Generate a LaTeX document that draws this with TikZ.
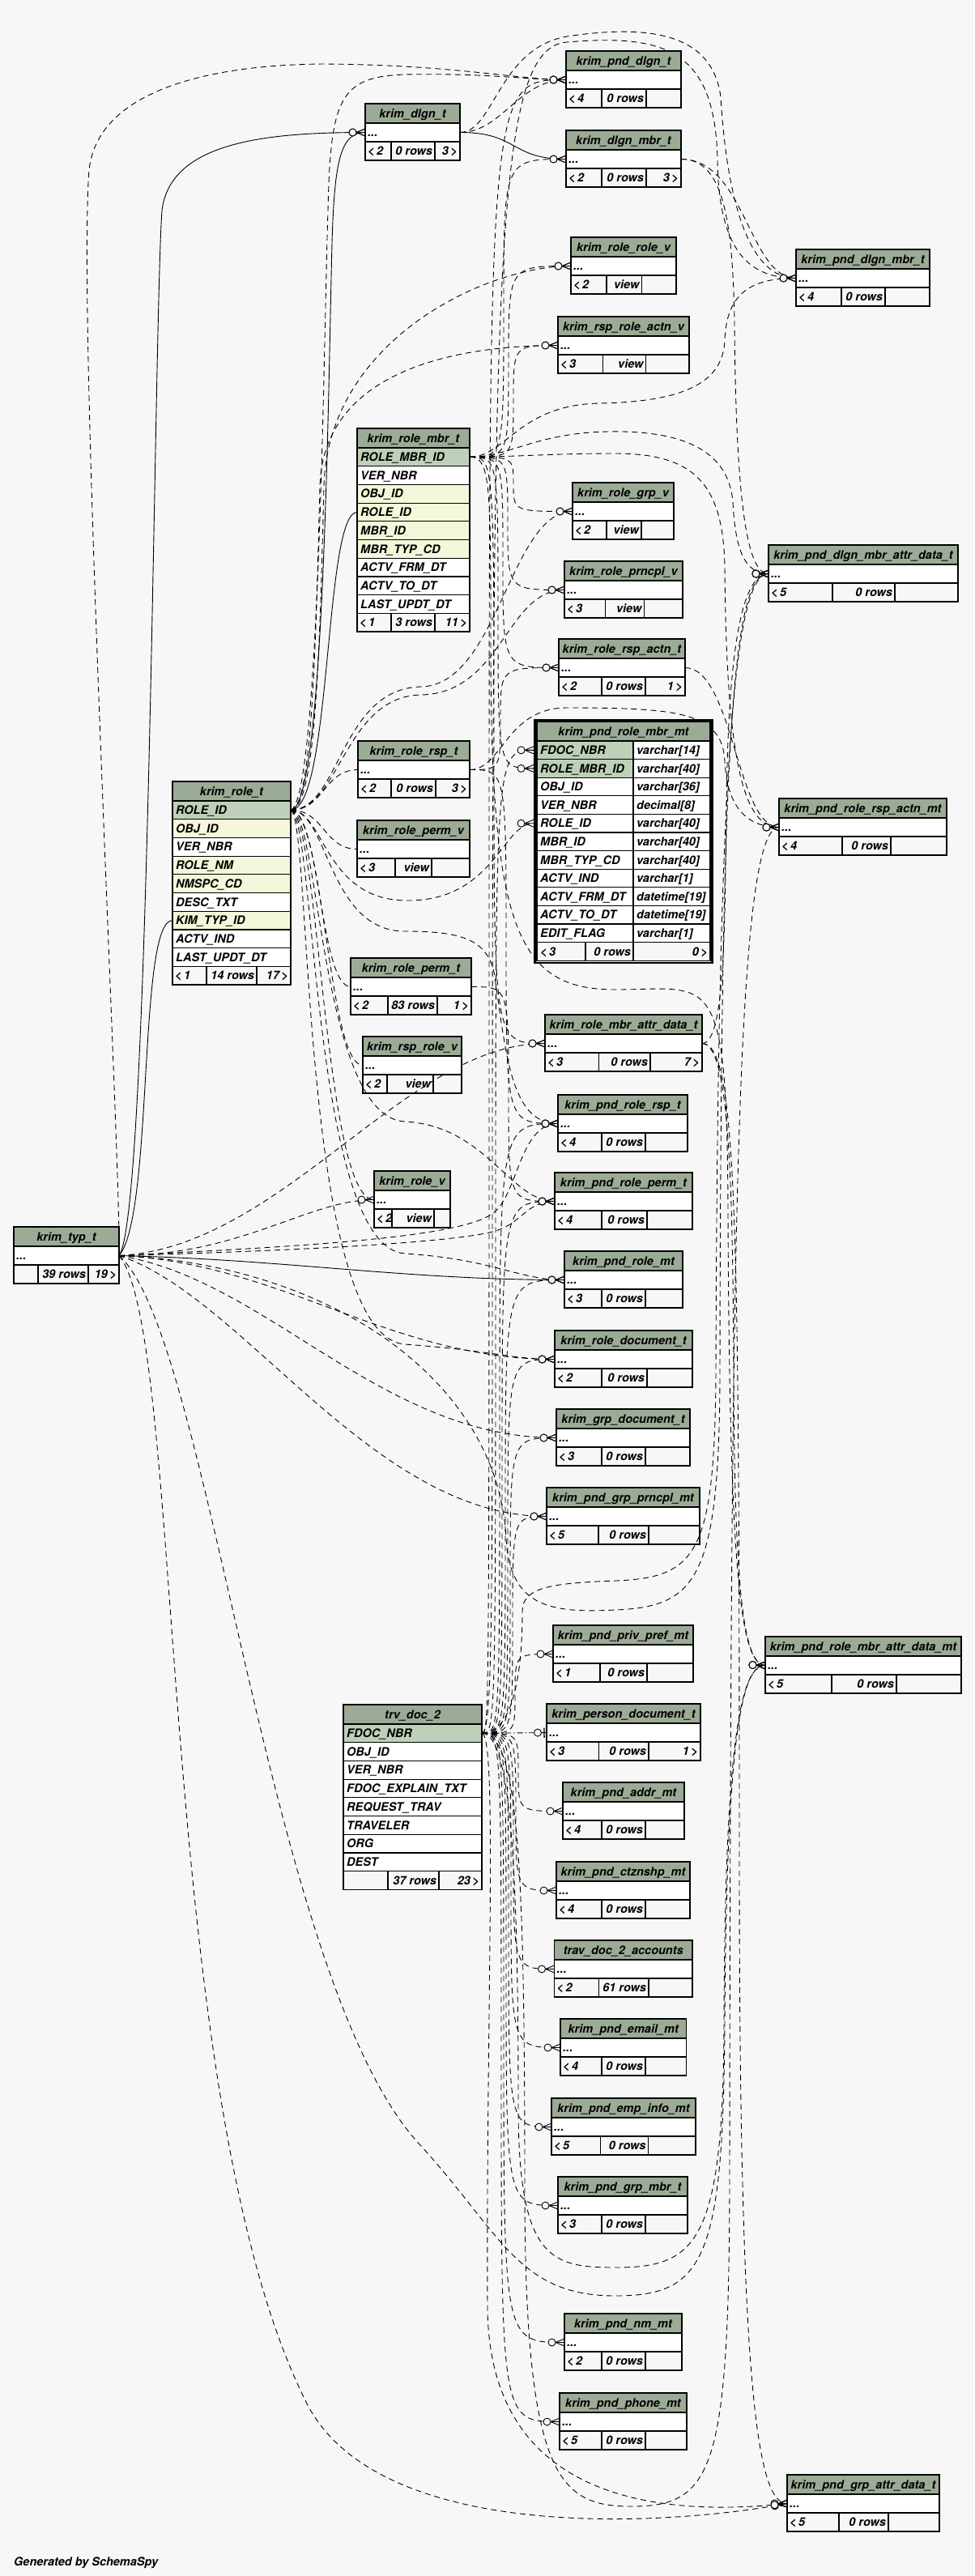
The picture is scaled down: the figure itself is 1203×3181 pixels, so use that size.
\documentclass[tikz,border=0pt]{standalone}
\usepackage{fontspec}
\setmainfont{TeX Gyre Heros}
\usetikzlibrary{calc,decorations.markings}
\definecolor{bgc}{HTML}{F7F7F7}
\definecolor{hdr}{HTML}{9BAB96}
\definecolor{pkc}{HTML}{BED1B8}
\definecolor{idx}{HTML}{F4F7DA}
\pgfdeclarelayer{bg}\pgfdeclarelayer{edges}\pgfsetlayers{bg,edges,main}
\tikzset{
 tb/.style={draw=black,line width=1.2pt},
 txt/.style={font=\fontsize{14.5}{17}\selectfont\bfseries\itshape,inner sep=0pt,text=black},
 dedge/.style={draw=black,line width=0.9pt,dash pattern=on 7pt off 5pt},
 sedge/.style={draw=black,line width=0.9pt},
 ddedge/.style={draw=black,line width=0.9pt,dash pattern=on 7pt off 3pt on 1.5pt off 3pt},
 crow/.style={postaction={decorate,decoration={markings,mark=at position 0.99999 with {\draw[solid,line width=0.9pt] (-11,0) -- (0,4.5) (-11,0) -- (0,0) (-11,0) -- (0,-4.5); \draw[solid,line width=0.9pt,fill=bgc] (-15.5,0) circle (4.5);}}}},
 onemark/.style={postaction={decorate,decoration={markings,mark=at position 0.99999 with {\draw[solid,line width=1.4pt] (-3,-6) -- (-3,6); \draw[solid,line width=0.9pt,fill=bgc] (-11,0) circle (4.5);}}}},
}
\newcommand\stab[8]{%
 \filldraw[tb,fill=hdr] (#2,#4) rectangle (#3,#4+24);
 \filldraw[tb,fill=white] (#2,#4+24) rectangle (#3,#4+47);
 \draw[tb] (#2,#4+47) rectangle (#3,#4+70) (#6,#4+47) -- (#6,#4+70) (#7,#4+47) -- (#7,#4+70);
 \node[txt,anchor=base] (#1-t) at ({(#2+#3)/2},#4+17.2) {#5};
 \node[txt,anchor=base west] (#1-r) at (#2+3,#4+40.7) {...};
 \coordinate (#1-in) at (#2,#4+35.5);
 \coordinate (#1-out) at (#3,#4+35.5);
 \stabfoot{#1}{#2}{#3}{#4}{#6}{#7}#8}
\newcommand\stabfoot[9]{%
 \node[txt,anchor=base west] (#1-f1) at (#2+3,#4+63.7) {#7};
 \node[txt,anchor=base east] (#1-f2) at (#6-3,#4+63.7) {#8};
 \node[txt,anchor=base east] (#1-f3) at (#3-3,#4+63.7) {#9};}
\newcommand\brow[6]{%
 \filldraw[tb,fill=#5] (#2,#4) rectangle (#3,#4+22.7);
 \node[txt,anchor=base west] (#1) at (#2+4,#4+16.55) {#6};}
\newcommand\prow[5]{%
 \filldraw[tb,fill=#3] (663,#2) rectangle (782,#2+22.6);
 \filldraw[tb,fill=white] (782,#2) rectangle (877,#2+22.6);
 \node[txt,anchor=base west] (#1a) at (667,#2+16.5) {#4};
 \node[txt,anchor=base west] (#1b) at (786,#2+16.5) {#5};}
\newcommand\viaA[4]{\draw[#1] let \p1=(#2), \p2=(#3) in (#2) .. controls (#4pt,\y1) and (#4pt,\y1) .. (#4pt,{(\y1+\y2)/2}) .. controls (#4pt,\y2) and (#4pt,\y2) .. (#3);}
\begin{document}
\begin{tikzpicture}[x=1pt,y=-1pt]
\useasboundingbox (0,0) rectangle (1203,3181);
\begin{pgfonlayer}{bg}\fill[bgc] (0,0) rectangle (1203,3181);\end{pgfonlayer}
% ---------------- small tables
\stab{pdlgn}{699}{841}{63}{krim\_pnd\_dlgn\_t}{743}{798}{{<\,4}{0 rows}{}}
\stab{dlgn}{451}{568}{128}{krim\_dlgn\_t}{483}{537}{{<\,2}{0 rows}{3\,>}}
\stab{dmbr}{699}{841}{161}{krim\_dlgn\_mbr\_t}{743}{798}{{<\,2}{0 rows}{3\,>}}
\stab{rrv}{705}{835}{293}{krim\_role\_role\_v}{749}{792.5}{{<\,2}{view}{}}
\stab{rrav}{689}{851}{391}{krim\_rsp\_role\_actn\_v}{744.5}{797.7}{{<\,3}{view}{}}
\stab{pdm}{983}{1148}{308}{krim\_pnd\_dlgn\_mbr\_t}{1039}{1093}{{<\,4}{0 rows}{}}
\stab{rgv}{707}{832}{596}{krim\_role\_grp\_v}{749}{792}{{<\,2}{view}{}}
\stab{rpv}{697}{843}{693}{krim\_role\_prncpl\_v}{747.5}{795.5}{{<\,3}{view}{}}
\stab{pdmad}{949}{1183}{673}{krim\_pnd\_dlgn\_mbr\_attr\_data\_t}{1028}{1105}{{<\,5}{0 rows}{}}
\stab{rra}{690}{846}{789}{krim\_role\_rsp\_actn\_t}{743}{797}{{<\,2}{0 rows}{1\,>}}
\stab{rrsp}{442}{580}{915}{krim\_role\_rsp\_t}{483}{538}{{<\,2}{0 rows}{3\,>}}
\stab{prra}{962}{1169}{986}{krim\_pnd\_role\_rsp\_actn\_mt}{1040}{1100}{{<\,4}{0 rows}{}}
\stab{rpermv}{441}{580}{1013}{krim\_role\_perm\_v}{488}{533}{{<\,3}{view}{}}
\stab{rperm}{433}{582}{1183}{krim\_role\_perm\_t}{479}{540}{{<\,2}{83 rows}{1\,>}}
\stab{rmad}{673}{867}{1253}{krim\_role\_mbr\_attr\_data\_t}{739.5}{803}{{<\,3}{0 rows}{7\,>}}
\stab{rsprv}{448}{570}{1280}{krim\_rsp\_role\_v}{478}{535}{{<\,2}{view}{}}
\stab{prrsp}{689}{849}{1352}{krim\_pnd\_role\_rsp\_t}{743}{797}{{<\,4}{0 rows}{}}
\stab{prperm}{685}{855}{1448}{krim\_pnd\_role\_perm\_t}{743}{799}{{<\,4}{0 rows}{}}
\stab{rv}{462}{556}{1446}{krim\_role\_v}{484}{536}{{<\,2}{view}{}}
\stab{prole}{697}{843}{1545}{krim\_pnd\_role\_mt}{743}{797}{{<\,3}{0 rows}{}}
\stab{rdoc}{685}{855}{1643}{krim\_role\_document\_t}{743}{799}{{<\,2}{0 rows}{}}
\stab{gdoc}{687}{852}{1740}{krim\_grp\_document\_t}{743}{797}{{<\,3}{0 rows}{}}
\stab{pgp}{675}{864}{1837}{krim\_pnd\_grp\_prncpl\_mt}{739}{801}{{<\,5}{0 rows}{}}
\stab{ppp}{683}{856}{2007}{krim\_pnd\_priv\_pref\_mt}{741}{799}{{<\,1}{0 rows}{}}
\stab{prmad}{945}{1187}{2021}{krim\_pnd\_role\_mbr\_attr\_data\_mt}{1027}{1107}{{<\,5}{0 rows}{}}
\stab{pdoc}{675}{865}{2104}{krim\_person\_document\_t}{739.5}{801}{{<\,3}{0 rows}{1\,>}}
\stab{paddr}{695}{845}{2201}{krim\_pnd\_addr\_mt}{743}{797}{{<\,4}{0 rows}{}}
\stab{pctz}{687}{852}{2299}{krim\_pnd\_ctznshp\_mt}{743}{797}{{<\,4}{0 rows}{}}
\stab{acct}{684.5}{855}{2396}{trav\_doc\_2\_accounts}{739.5}{801}{{<\,2}{61 rows}{}}
\stab{pemail}{692}{847.5}{2493}{krim\_pnd\_email\_mt}{743}{797}{{<\,4}{0 rows}{}}
\stab{pemp}{681}{859}{2591}{krim\_pnd\_emp\_info\_mt}{741.6}{800.5}{{<\,5}{0 rows}{}}
\stab{pgm}{689}{849}{2688}{krim\_pnd\_grp\_mbr\_t}{743}{797}{{<\,3}{0 rows}{}}
\stab{pnm}{697}{842}{2857}{krim\_pnd\_nm\_mt}{743}{797}{{<\,2}{0 rows}{}}
\stab{pphone}{691}{848}{2955}{krim\_pnd\_phone\_mt}{743}{797}{{<\,5}{0 rows}{}}
\stab{pgad}{972}{1160}{3056}{krim\_pnd\_grp\_attr\_data\_t}{1036}{1097}{{<\,5}{0 rows}{}}
\stab{typ}{17}{147}{1515}{krim\_typ\_t}{47}{109}{{}{39 rows}{19\,>}}
% ---------------- krim_role_mbr_t
\filldraw[tb,fill=hdr] (441,529) rectangle (580,553);
\node[txt,anchor=base] (rmbr-t) at (510.5,546.2) {krim\_role\_mbr\_t};
\brow{rmbr-r1}{441}{580}{553}{pkc}{ROLE\_MBR\_ID}
\brow{rmbr-r2}{441}{580}{575.7}{white}{VER\_NBR}
\brow{rmbr-r3}{441}{580}{598.4}{idx}{OBJ\_ID}
\brow{rmbr-r4}{441}{580}{621.1}{idx}{ROLE\_ID}
\brow{rmbr-r5}{441}{580}{643.8}{idx}{MBR\_ID}
\brow{rmbr-r6}{441}{580}{666.5}{idx}{MBR\_TYP\_CD}
\brow{rmbr-r7}{441}{580}{689.2}{white}{ACTV\_FRM\_DT}
\brow{rmbr-r8}{441}{580}{711.9}{white}{ACTV\_TO\_DT}
\brow{rmbr-r9}{441}{580}{734.6}{white}{LAST\_UPDT\_DT}
\draw[tb] (441,757.3) rectangle (580,780) (483,757.3) -- (483,780) (537,757.3) -- (537,780);
\node[txt,anchor=base west] (rmbr-f1) at (444,773.85) {<\,1};
\node[txt,anchor=base east] (rmbr-f2) at (534,773.85) {3 rows};
\node[txt,anchor=base east] (rmbr-f3) at (577,773.85) {11\,>};
\coordinate (rmbr-out) at (580,564.35);
\coordinate (rmbr-in) at (441,632.45);
% ---------------- krim_role_t
\filldraw[tb,fill=hdr] (213,965) rectangle (359,989);
\node[txt,anchor=base] (role-t) at (286,982.2) {krim\_role\_t};
\brow{role-r1}{213}{359}{989}{pkc}{ROLE\_ID}
\brow{role-r2}{213}{359}{1011.7}{idx}{OBJ\_ID}
\brow{role-r3}{213}{359}{1034.4}{white}{VER\_NBR}
\brow{role-r4}{213}{359}{1057.1}{idx}{ROLE\_NM}
\brow{role-r5}{213}{359}{1079.8}{idx}{NMSPC\_CD}
\brow{role-r6}{213}{359}{1102.5}{white}{DESC\_TXT}
\brow{role-r7}{213}{359}{1125.2}{idx}{KIM\_TYP\_ID}
\brow{role-r8}{213}{359}{1147.9}{white}{ACTV\_IND}
\brow{role-r9}{213}{359}{1170.6}{white}{LAST\_UPDT\_DT}
\draw[tb] (213,1193.3) rectangle (359,1216) (255,1193.3) -- (255,1216) (317,1193.3) -- (317,1216);
\node[txt,anchor=base west] (role-f1) at (216,1209.85) {<\,1};
\node[txt,anchor=base east] (role-f2) at (314,1209.85) {14 rows};
\node[txt,anchor=base east] (role-f3) at (356,1209.85) {17\,>};
\coordinate (role-out) at (359,1000.35);
\coordinate (role-in) at (213,1136.55);
% ---------------- trv_doc_2
\filldraw[tb,fill=hdr] (424,2105) rectangle (595,2129);
\node[txt,anchor=base] (trv-t) at (509.5,2122.2) {trv\_doc\_2};
\brow{trv-r1}{424}{595}{2129}{pkc}{FDOC\_NBR}
\brow{trv-r2}{424}{595}{2151.7}{white}{OBJ\_ID}
\brow{trv-r3}{424}{595}{2174.4}{white}{VER\_NBR}
\brow{trv-r4}{424}{595}{2197.1}{white}{FDOC\_EXPLAIN\_TXT}
\brow{trv-r5}{424}{595}{2219.8}{white}{REQUEST\_TRAV}
\brow{trv-r6}{424}{595}{2242.5}{white}{TRAVELER}
\brow{trv-r7}{424}{595}{2265.2}{white}{ORG}
\brow{trv-r8}{424}{595}{2287.9}{white}{DEST}
\draw[tb] (424,2310.6) rectangle (595,2333.3) (479,2310.6) -- (479,2333.3) (542,2310.6) -- (542,2333.3);
\node[txt,anchor=base east] (trv-f2) at (539,2327.15) {37 rows};
\node[txt,anchor=base east] (trv-f3) at (592,2327.15) {23\,>};
\coordinate (trv-out) at (595,2140.35);
% ---------------- krim_pnd_role_mbr_mt
\draw[line width=2.6pt] (660.3,889.3) rectangle (879.7,1188.9);
\filldraw[tb,fill=hdr] (663,891.5) rectangle (877,915);
\node[txt,anchor=base] (prmm-t) at (770,908.4) {krim\_pnd\_role\_mbr\_mt};
\prow{prmm-r1}{915}{pkc}{FDOC\_NBR}{varchar[14]}
\prow{prmm-r2}{937.6}{pkc}{ROLE\_MBR\_ID}{varchar[40]}
\prow{prmm-r3}{960.2}{white}{OBJ\_ID}{varchar[36]}
\prow{prmm-r4}{982.8}{white}{VER\_NBR}{decimal[8]}
\prow{prmm-r5}{1005.4}{white}{ROLE\_ID}{varchar[40]}
\prow{prmm-r6}{1028}{white}{MBR\_ID}{varchar[40]}
\prow{prmm-r7}{1050.6}{white}{MBR\_TYP\_CD}{varchar[40]}
\prow{prmm-r8}{1073.2}{white}{ACTV\_IND}{varchar[1]}
\prow{prmm-r9}{1095.8}{white}{ACTV\_FRM\_DT}{datetime[19]}
\prow{prmm-r10}{1118.4}{white}{ACTV\_TO\_DT}{datetime[19]}
\prow{prmm-r11}{1141}{white}{EDIT\_FLAG}{varchar[1]}
\draw[tb] (663,1163.6) rectangle (877,1186.2) (723,1163.6) -- (723,1186.2) (782,1163.6) -- (782,1186.2);
\node[txt,anchor=base west] (prmm-f1) at (667,1180.1) {<\,3};
\node[txt,anchor=base east] (prmm-f2) at (779,1180.1) {0 rows};
\node[txt,anchor=base east] (prmm-f3) at (874,1180.1) {0\,>};
\coordinate (prmm-in1) at (659,926.3);
\coordinate (prmm-in2) at (659,948.9);
\coordinate (prmm-in5) at (659,1016.7);
\node[txt,anchor=base west] (gen) at (17,3168) {Generated by SchemaSpy};
% ---------------- connectors
\begin{pgfonlayer}{edges}
% solid foreign keys
\draw[sedge,crow] (typ-out) .. controls (185,1500) and (190,400) .. (200,260) .. controls (210,175) and (330,163.5) .. (dlgn-in);
\draw[sedge,crow] (role-out) .. controls (400,1000) and (405,500) .. (410,300) .. controls (413,200) and (420,163.5) .. (dlgn-in);
\draw[sedge,crow] (role-out) .. controls (410,1000) and (400,632.45) .. (rmbr-in);
\draw[sedge,crow] (typ-out) .. controls (190,1500) and (170,1136.55) .. (role-in);
\draw[sedge,crow] (dlgn-out) .. controls (640,163.5) and (630,196.5) .. (dmbr-in);
\draw[sedge,crow] (typ-out) .. controls (350,1555) and (500,1580.5) .. (prole-in);
% krim_typ_t implied
\draw[dedge,crow] (typ-out) .. controls (150,1450) and (95,400) .. (110,210) .. controls (120,115) and (250,80) .. (400,79) .. controls (560,80) and (640,98.5) .. (pdlgn-in);
\draw[dedge,crow] (typ-out) .. controls (300,1550) and (380,1481.5) .. (rv-in);
\draw[dedge,crow] (typ-out) .. controls (350,1540) and (500,1288.5) .. (rmad-in);
\draw[dedge,crow] (typ-out) .. controls (350,1540) and (560,1530) .. (606,1500) .. controls (640,1480) and (640,1387.5) .. (prrsp-in);
\draw[dedge,crow] (typ-out) .. controls (350,1545) and (560,1535) .. (612,1520) .. controls (645,1510) and (650,1483.5) .. (prperm-in);
\draw[dedge,crow] (typ-out) .. controls (350,1560) and (480,1678.5) .. (rdoc-in);
\draw[dedge,crow] (typ-out) .. controls (330,1580) and (470,1775.5) .. (gdoc-in);
\draw[dedge,crow] (typ-out) .. controls (300,1600) and (460,1872.5) .. (pgp-in);
\draw[dedge,crow] (typ-out) .. controls (230,1650) and (190,2600) .. (380,2970) .. controls (470,3140) and (820,3120) .. (pgad-in);
\draw[dedge,crow] (typ-out) .. controls (400,1560) and (615,1700) .. (625,1900) .. controls (630,1985) and (680,1992) .. (760,1988) .. controls (860,1984) and (888,1950) .. (889,1700) .. controls (890,900) and (905,708.5) .. (pdmad-in);
\draw[dedge,crow] (typ-out) .. controls (260,1650) and (330,2450) .. (520,2650) .. controls (620,2760) and (640,2835) .. (760,2835) .. controls (870,2835) and (893,2790) .. (895,2500) .. controls (897,2150) and (915,2055.5) .. (prmad-in);
% krim_role_t implied
\draw[dedge,crow] (role-out) .. controls (400,1000.35) and (400,950.5) .. (rrsp-in);
\draw[dedge,crow] (role-out) .. controls (400,1000.35) and (400,1048.5) .. (rpermv-in);
\draw[dedge,crow] (role-out) .. controls (395,1000.35) and (395,1218.5) .. (rperm-in);
\draw[dedge,crow] (role-out) .. controls (400,1000.35) and (405,1315.5) .. (rsprv-in);
\draw[dedge,crow] (role-out) .. controls (395,1010) and (400,1481.5) .. (rv-in);
\draw[dedge,crow] (role-out) .. controls (390,1000) and (395,800) .. (400,600) .. controls (405,420) and (600,328.5) .. (rrv-in);
\draw[dedge,crow] (role-out) .. controls (385,1000) and (390,800) .. (395,600) .. controls (400,450) and (580,426.5) .. (rrav-in);
\draw[dedge,crow] (role-out) .. controls (420,1000) and (420,850) .. (520,848) .. controls (615,846) and (630,631.5) .. (rgv-in);
\draw[dedge,crow] (role-out) .. controls (420,1000) and (425,860) .. (520,858) .. controls (620,856) and (625,728.5) .. (rpv-in);
\draw[dedge,crow] (role-out) .. controls (400,1000) and (400,1110) .. (500,1112) .. controls (610,1114) and (620,1016.7) .. (prmm-in5);
\draw[dedge,crow] (role-out) .. controls (405,1000) and (405,1150) .. (500,1150) .. controls (570,1150) and (600,1160) .. (610,1200) .. controls (625,1300) and (630,1387.5) .. (prrsp-in);
\draw[dedge,crow] (role-out) .. controls (395,1000) and (395,1380) .. (500,1385) .. controls (600,1390) and (630,1483.5) .. (prperm-in);
\draw[dedge,crow] (role-out) .. controls (390,1010) and (385,1540) .. (500,1548) .. controls (610,1555) and (640,1580.5) .. (prole-in);
\draw[dedge,crow] (role-out) .. controls (395,990) and (400,400) .. (405,260) .. controls (408,120) and (420,95) .. (500,92) .. controls (600,90) and (650,98.5) .. (pdlgn-in);
\draw[dedge,crow] (role-out) .. controls (385,1010) and (370,1650) .. (500,1660) .. controls (610,1668) and (630,1678.5) .. (rdoc-in);
% krim_role_mbr_t implied
\viaA{dedge,crow}{rmbr-out}{dmbr-in}{622}
\viaA{dedge,crow}{rmbr-out}{rrv-in}{628}
\viaA{dedge,crow}{rmbr-out}{rrav-in}{634}
\viaA{dedge,crow}{rmbr-out}{rgv-in}{634}
\viaA{dedge,crow}{rmbr-out}{rpv-in}{627}
\viaA{dedge,crow}{rmbr-out}{rra-in}{621}
\viaA{dedge,crow}{rmbr-out}{prmm-in2}{615}
\viaA{dedge,crow}{rmbr-out}{rmad-in}{610}
\draw[dedge,crow] (rmbr-out) .. controls (625,564) and (640,500) .. (740,498) .. controls (850,496) and (893,470) .. (895,420) .. controls (897,360) and (930,343.5) .. (pdm-in);
\draw[dedge,crow] (rmbr-out) .. controls (630,564) and (660,535) .. (750,533) .. controls (850,531) and (900,560) .. (905,620) .. controls (908,680) and (920,708.5) .. (pdmad-in);
\draw[dedge,crow] (rmbr-out) .. controls (640,564) and (680,560) .. (760,560) .. controls (860,560) and (893,600) .. (895,700) .. controls (897,950) and (920,1021.5) .. (prra-in);
\draw[dedge,crow] (rmbr-out) .. controls (606,564) and (606,600) .. (606,800) .. controls (606,1150) and (640,1222) .. (760,1222) .. controls (880,1222) and (898,1190) .. (899,1500) .. controls (901,1950) and (915,2055.5) .. (prmad-in);
% krim_dlgn_t / krim_dlgn_mbr_t implied
\draw[dedge,crow] (dlgn-out) .. controls (620,163.5) and (640,98.5) .. (pdlgn-in);
\draw[dedge,crow] (dlgn-out) .. controls (610,163.5) and (615,60) .. (700,45) .. controls (800,30) and (880,40) .. (890,120) .. controls (898,250) and (925,343.5) .. (pdm-in);
\draw[dedge,crow] (dmbr-out) .. controls (920,196.5) and (925,343.5) .. (pdm-in);
\draw[dedge,crow] (dmbr-out) .. controls (890,196.5) and (905,260) .. (907,400) .. controls (909,640) and (925,708.5) .. (pdmad-in);
% krim_role_rsp_t, krim_role_rsp_actn_t, krim_role_perm_t, krim_role_mbr_attr_data_t
\viaA{dedge,crow}{rrsp-out}{rra-in}{618}
\viaA{dedge,crow}{rrsp-out}{prrsp-in}{625}
\draw[dedge,crow] (rrsp-out) .. controls (620,950.5) and (625,874) .. (700,874) .. controls (840,874) and (892,880) .. (895,940) .. controls (898,1000) and (925,1021.5) .. (prra-in);
\draw[dedge,crow] (rra-out) .. controls (905,824.5) and (910,1021.5) .. (prra-in);
\viaA{dedge,crow}{rperm-out}{prperm-in}{628}
\draw[dedge,crow] (rmad-out) .. controls (895,1288.5) and (895,1150) .. (897,1000) .. controls (899,780) and (920,708.5) .. (pdmad-in);
\draw[dedge,crow] (rmad-out) .. controls (900,1288.5) and (905,1450) .. (906,1700) .. controls (907,1980) and (920,2055.5) .. (prmad-in);
\draw[dedge,crow] (rmad-out) .. controls (910,1288.5) and (913,1500) .. (913,2300) .. controls (913,2950) and (935,3091.5) .. (pgad-in);
% trv_doc_2 implied
\viaA{dedge,crow}{trv-out}{pdlgn-in}{604}
\draw[dedge,crow] (trv-out) .. controls (608,2140) and (608,2000) .. (608,1500) .. controls (608,300) and (612,60) .. (700,52) .. controls (820,42) and (884,60) .. (886,200) .. controls (888,310) and (925,343.5) .. (pdm-in);
\draw[dedge,crow] (trv-out) .. controls (640,2140) and (645,2040) .. (645,1990) .. controls (645,1960) and (680,1955) .. (760,1952) .. controls (860,1948) and (882,1920) .. (884,1700) .. controls (886,900) and (910,708.5) .. (pdmad-in);
\draw[dedge,crow] (trv-out) .. controls (640,2140) and (648,2300) .. (648,2700) .. controls (648,3060) and (690,3095) .. (780,3095) .. controls (880,3095) and (900,3050) .. (901,2700) .. controls (902,1500) and (910,1021.5) .. (prra-in);
\draw[dedge,crow] (trv-out) .. controls (630,2140) and (640,2300) .. (640,2600) .. controls (640,2790) and (680,2800) .. (760,2800) .. controls (860,2800) and (893,2770) .. (894,2500) .. controls (895,2150) and (915,2055.5) .. (prmad-in);
\draw[dedge,crow] (trv-out) .. controls (615,2140) and (600,2500) .. (602,2850) .. controls (604,3080) and (800,3110) .. (pgad-in);
\viaA{dedge,crow}{trv-out}{prmm-in1}{612}
\viaA{dedge,crow}{trv-out}{prrsp-in}{617}
\viaA{dedge,crow}{trv-out}{prperm-in}{620}
\viaA{dedge,crow}{trv-out}{prole-in}{624}
\viaA{dedge,crow}{trv-out}{rdoc-in}{627}
\viaA{dedge,crow}{trv-out}{gdoc-in}{630}
\viaA{dedge,crow}{trv-out}{pgp-in}{633}
\viaA{dedge,crow}{trv-out}{ppp-in}{636}
\draw[ddedge,onemark] (trv-out) -- (pdoc-in);
\viaA{dedge,crow}{trv-out}{paddr-in}{640}
\viaA{dedge,crow}{trv-out}{pctz-in}{637}
\viaA{dedge,crow}{trv-out}{acct-in}{634}
\viaA{dedge,crow}{trv-out}{pemail-in}{631}
\viaA{dedge,crow}{trv-out}{pemp-in}{628}
\viaA{dedge,crow}{trv-out}{pgm-in}{625}
\viaA{dedge,crow}{trv-out}{pnm-in}{622}
\viaA{dedge,crow}{trv-out}{pphone-in}{619}
\end{pgfonlayer}
\end{tikzpicture}
\end{document}
